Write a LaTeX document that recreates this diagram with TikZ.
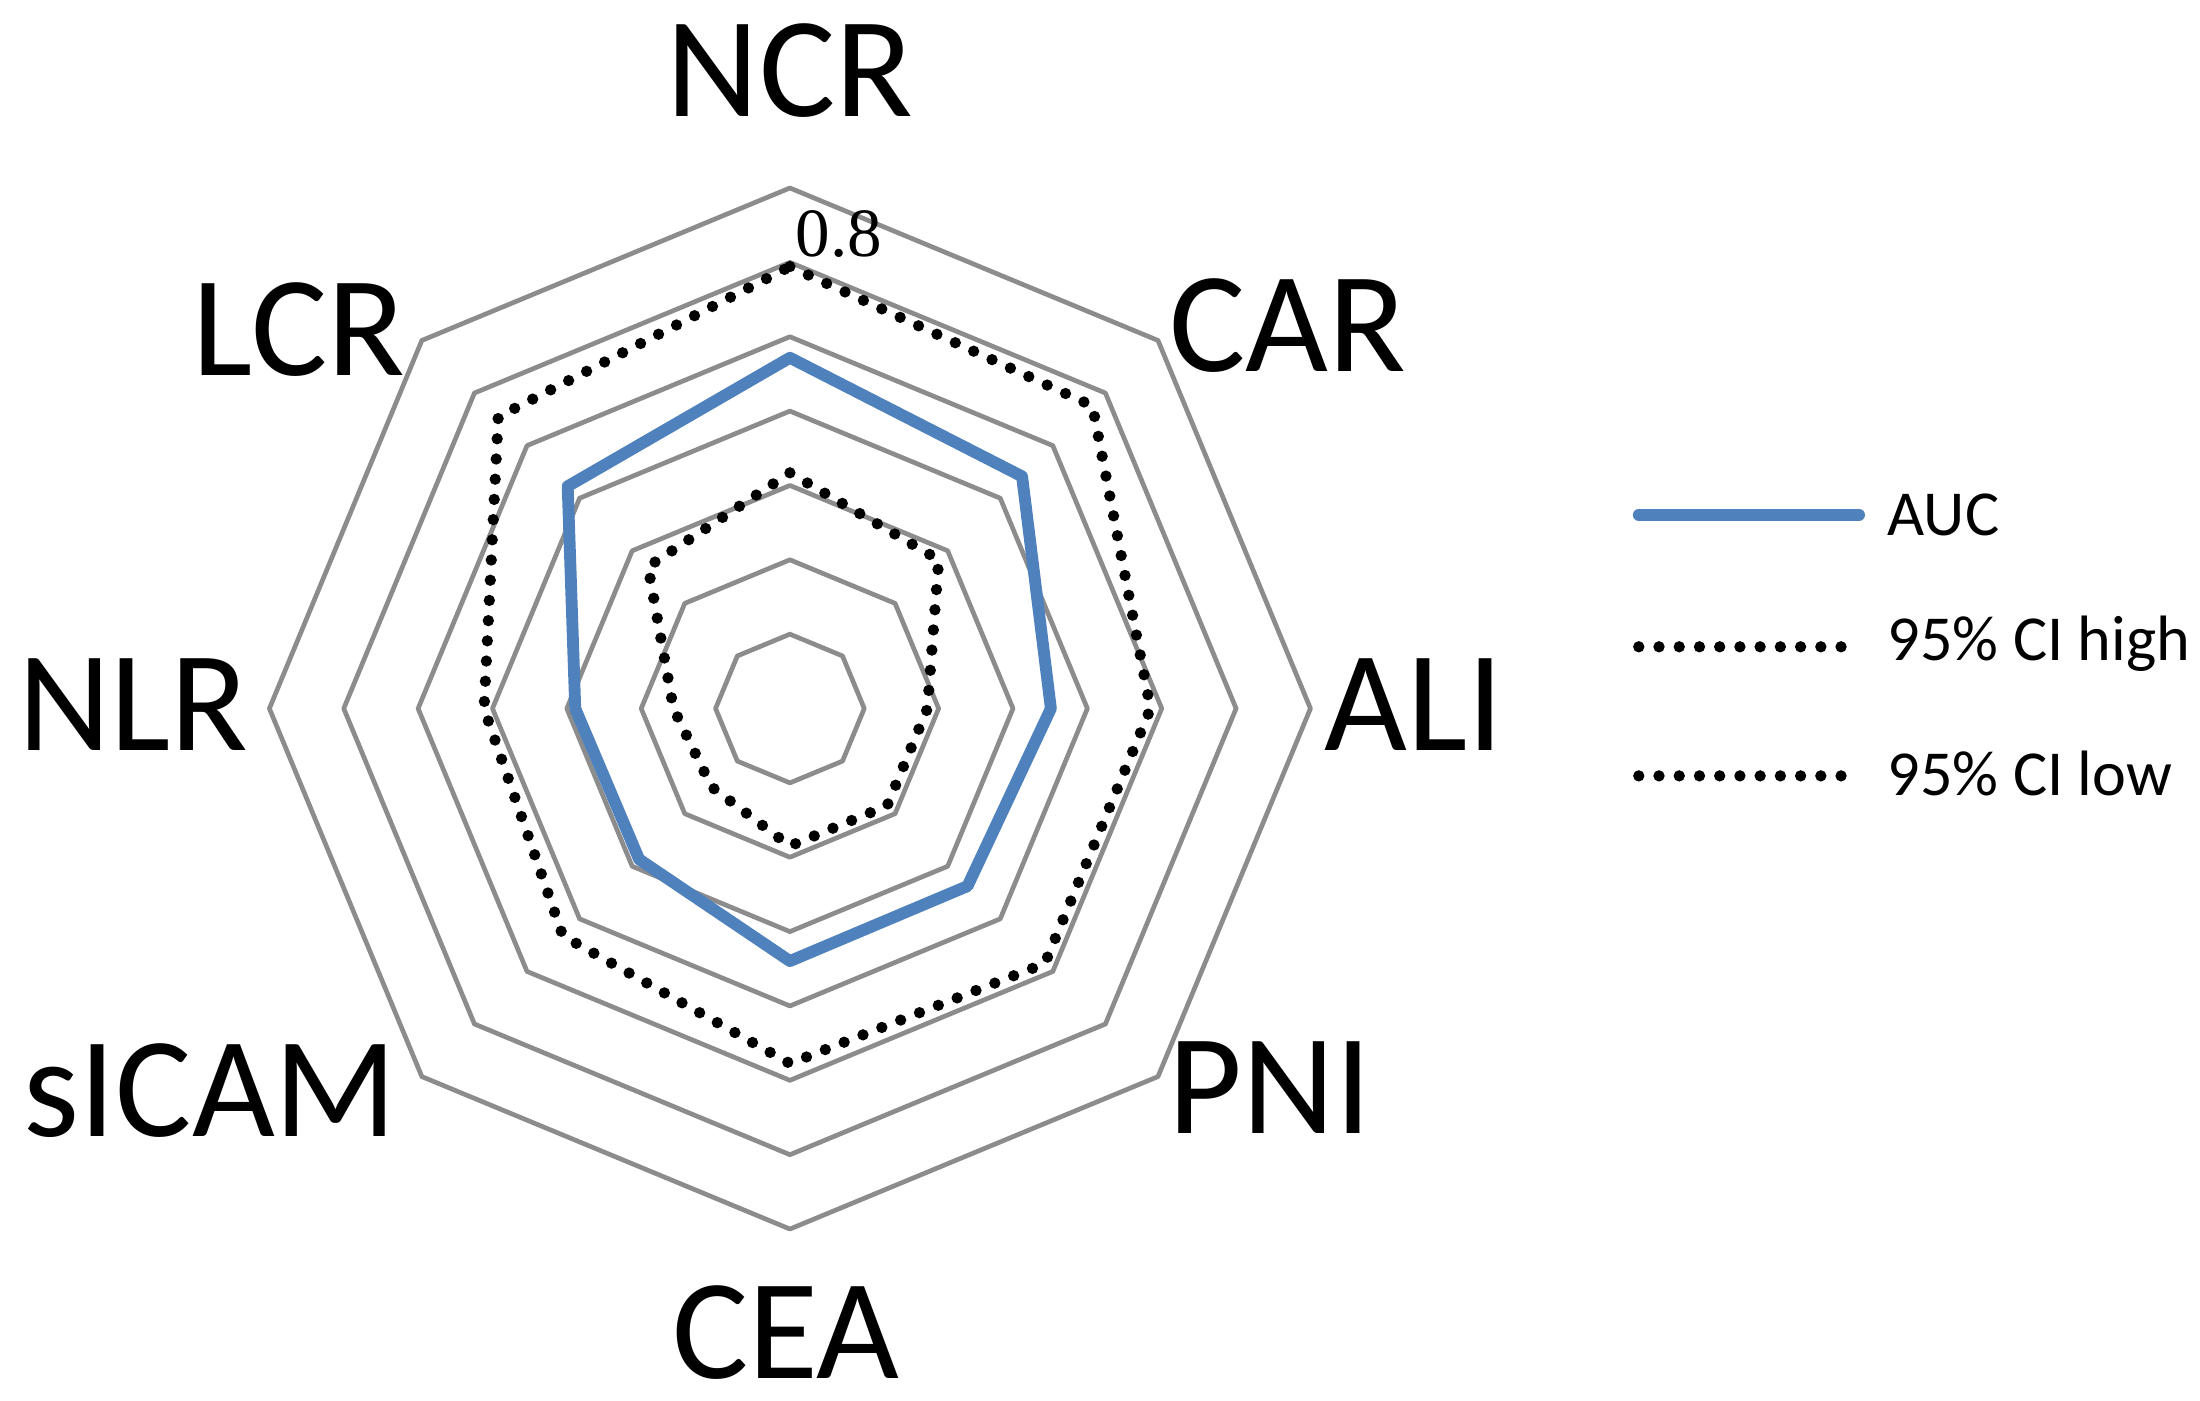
\documentclass[tikz,border=0pt]{standalone}
\usepackage{fontspec}
\setmainfont{Carlito}
\newfontfamily\serifnum{Liberation Serif}
\usetikzlibrary{calc}
\definecolor{aucblue}{RGB}{79,129,189}
\begin{document}
\begin{tikzpicture}[x=0.01cm,y=-0.01cm,
  ring/.style={draw=gray!90,line width=0.95pt,line join=round},
  auc/.style={draw=aucblue,line width=2.4pt,line join=round},
  ci/.style={draw=black,line width=2.3pt,line cap=round,dash pattern=on 0pt off 4.1pt},
  lab/.style={font=\fontsize{29}{32}\selectfont},
  leg/.style={font=\fontsize{13}{15}\selectfont,anchor=west}]
\useasboundingbox (0,0) rectangle (1568,998);
\coordinate (c) at (563,505);
% rings
\foreach \k in {1,...,7}{
  \draw[ring] ($(c)+(-90:{53*\k})$) \foreach \i in {1,...,7}{ -- ($(c)+({-90+45*\i}:{53*\k})$)} -- cycle;
}
\node[font=\fontsize{14}{16}\selectfont\serifnum, anchor=south west, inner sep=1pt] (lbl) at (563,188) {0.8};
% series: order NCR | CAR, ALI, PNI, CEA, sICAM, NLR, LCR
\newcommand\myseries[3]{\draw[#1] ($(c)+(-90:#2)$) \foreach \r [count=\i] in {#3}{ -- ($(c)+({-90+45*\i}:\r)$)} -- cycle;}
\myseries{ci}{315}{305,257,257,253,229,218,294}
\myseries{ci}{168}{150,98,98,98,79,83,143}
\myseries{auc}{250}{234,186,179,180,152,153,224}
% labels
\node[lab] (ncr) at (563,50) {NCR};
\node[lab] (car) at (918,232) {CAR};
\node[lab] (ali) at (1008,502) {ALI};
\node[lab] (pni) at (905,775) {PNI};
\node[lab] (cea) at (560,950) {CEA};
\node[lab] (sicam) at (150,777) {sICAM};
\node[lab] (nlr) at (95,502) {NLR};
\node[lab] (lcr) at (213,235) {LCR};
% legend
\coordinate (a1) at (1168,367); \coordinate (a2) at (1325,367);
\draw[auc,line cap=round] (a1) -- (a2);
\node[leg] (la) at (1333,367) {AUC};
\coordinate (h1) at (1168,461); \coordinate (h2) at (1325,461);
\draw[ci] (h1) -- (h2);
\node[leg] (lh) at (1333,459) {95\% CI high};
\coordinate (l1) at (1168,553); \coordinate (l2) at (1325,553);
\draw[ci] (l1) -- (l2);
\node[leg] (ll) at (1333,551) {95\% CI low};
\end{tikzpicture}
\end{document}
